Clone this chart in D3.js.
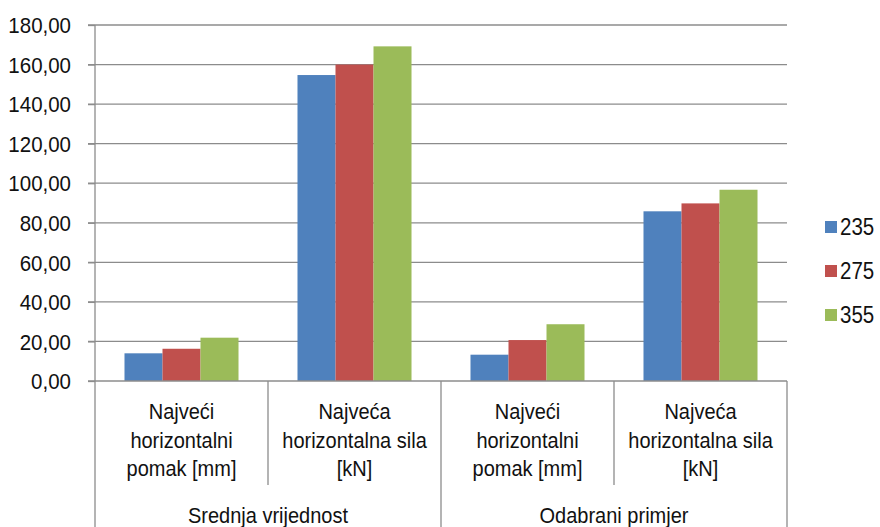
<!DOCTYPE html>
<html>
<head>
<meta charset="utf-8">
<script src="https://cdn.jsdelivr.net/npm/d3@7"></script>
<style>
  body { margin: 0; background: #fff; }
  svg { display: block; font-family: "Liberation Sans", Arial, sans-serif; }
</style>
</head>
<body>
<svg id="chart" width="880" height="527"></svg>
<script>
const groups = ["Srednja vrijednost", "Odabrani primjer"];
const categories = [
  ["Najveći", "horizontalni", "pomak [mm]"],
  ["Najveća", "horizontalna sila", "[kN]"],
  ["Najveći", "horizontalni", "pomak [mm]"],
  ["Najveća", "horizontalna sila", "[kN]"]
];
const categoryGroup = [0, 0, 1, 1];
const series = ["235", "275", "355"];
const values235 = [14.0, 154.7, 13.3, 85.8];
const values275 = [16.3, 160.0, 20.7, 89.8];
const values355 = [21.9, 169.2, 28.7, 96.7];
const yTicks = [0, 20, 40, 60, 80, 100, 120, 140, 160, 180];
const colors = ["#4F81BD", "#C0504D", "#9BBB59"];

(function () {
const seriesValues = [values235, values275, values355];
const svg = d3.select("#chart");
const mLeft = 95, mRight = 787, mTop = 25, mBottom = 381;
const gridColor = "#8c8c8c";
const textColor = "#111";
const stretch = 1.14;

const x = d3.scaleBand().domain(d3.range(categories.length)).range([mLeft, mRight]).padding(0);
const xs = d3.scaleBand().domain(series).range([0, x.bandwidth()]).paddingInner(0).paddingOuter(0.776);
const y = d3.scaleLinear().domain([0, 180]).range([mBottom, mTop]);
const loc = d3.formatLocale({decimal: ",", thousands: ".", grouping: [3], currency: ["", ""]});
const fmt = loc.format(".2f");

function stext(g, tx, ty, str, size) {
  return g.append("text")
    .attr("transform", `translate(${tx},${ty}) scale(1,${stretch})`)
    .attr("font-size", size).text(str);
}

// gridlines
svg.append("g").selectAll("line").data(yTicks.filter(d => d > 0)).join("line")
  .attr("x1", mLeft - 7).attr("x2", mRight)
  .attr("y1", d => y(d)).attr("y2", d => y(d))
  .attr("stroke", gridColor).attr("stroke-width", 1.3);

// y axis
const yAxis = d3.axisLeft(y).tickValues(yTicks).tickFormat(fmt).tickSize(7).tickPadding(17);
const ga = svg.append("g").attr("transform", `translate(${mLeft},0)`).call(yAxis);
ga.select(".domain").remove();
ga.selectAll(".tick line").attr("stroke", gridColor).attr("stroke-width", 1.3);
ga.selectAll(".tick text").attr("fill", textColor).attr("font-size", 20.5)
  .attr("font-family", "Liberation Sans, Arial, sans-serif")
  .attr("dy", "0.35em").attr("transform", `scale(1,1.07)`);

// bars
const bars = svg.append("g");
series.forEach((s, si) => {
  bars.selectAll(null).data(seriesValues[si]).join("rect")
    .attr("x", (d, i) => x(i) + xs(s))
    .attr("width", xs.bandwidth())
    .attr("y", d => y(d))
    .attr("height", d => y(0) - y(d))
    .attr("fill", colors[si]);
});

// x axis baseline
svg.append("line").attr("x1", mLeft - 7).attr("x2", mRight).attr("y1", mBottom).attr("y2", mBottom)
  .attr("stroke", gridColor).attr("stroke-width", 1.3);
// y axis line (extends to bottom as outer separator)
svg.append("line").attr("x1", mLeft).attr("x2", mLeft).attr("y1", mTop).attr("y2", 527)
  .attr("stroke", gridColor).attr("stroke-width", 1.3);

// separators
const sep = svg.append("g");
d3.range(1, categories.length + 1).forEach(i => {
  const xx = i < categories.length ? x(i) : mRight;
  const outer = i === categories.length || categoryGroup[i] !== categoryGroup[i - 1];
  sep.append("line").attr("x1", xx).attr("x2", xx).attr("y1", mBottom).attr("y2", outer ? 527 : 485)
    .attr("stroke", gridColor).attr("stroke-width", 1.3);
});

// category labels
const cl = svg.append("g").attr("fill", textColor).attr("text-anchor", "middle");
categories.forEach((lines, i) => {
  lines.forEach((t, li) => {
    stext(cl, x(i) + x.bandwidth() / 2, 419 + li * 28.5, t, 20);
  });
});
// group labels
groups.forEach((g, gi) => {
  const idx = categoryGroup.map((c, i) => c === gi ? i : -1).filter(i => i >= 0);
  const x0 = x(idx[0]), x1 = x(idx[idx.length - 1]) + x.bandwidth();
  stext(cl, (x0 + x1) / 2, 523, g, 20);
});

// legend
const lg = svg.append("g").attr("fill", textColor);
series.forEach((s, si) => {
  const yy = 227 + si * 44;
  lg.append("rect").attr("x", 825).attr("y", yy - 6).attr("width", 12).attr("height", 12).attr("fill", colors[si]);
  stext(lg, 840, yy + 7.5, s, 20.5);
});
})();
</script>
</body>
</html>
